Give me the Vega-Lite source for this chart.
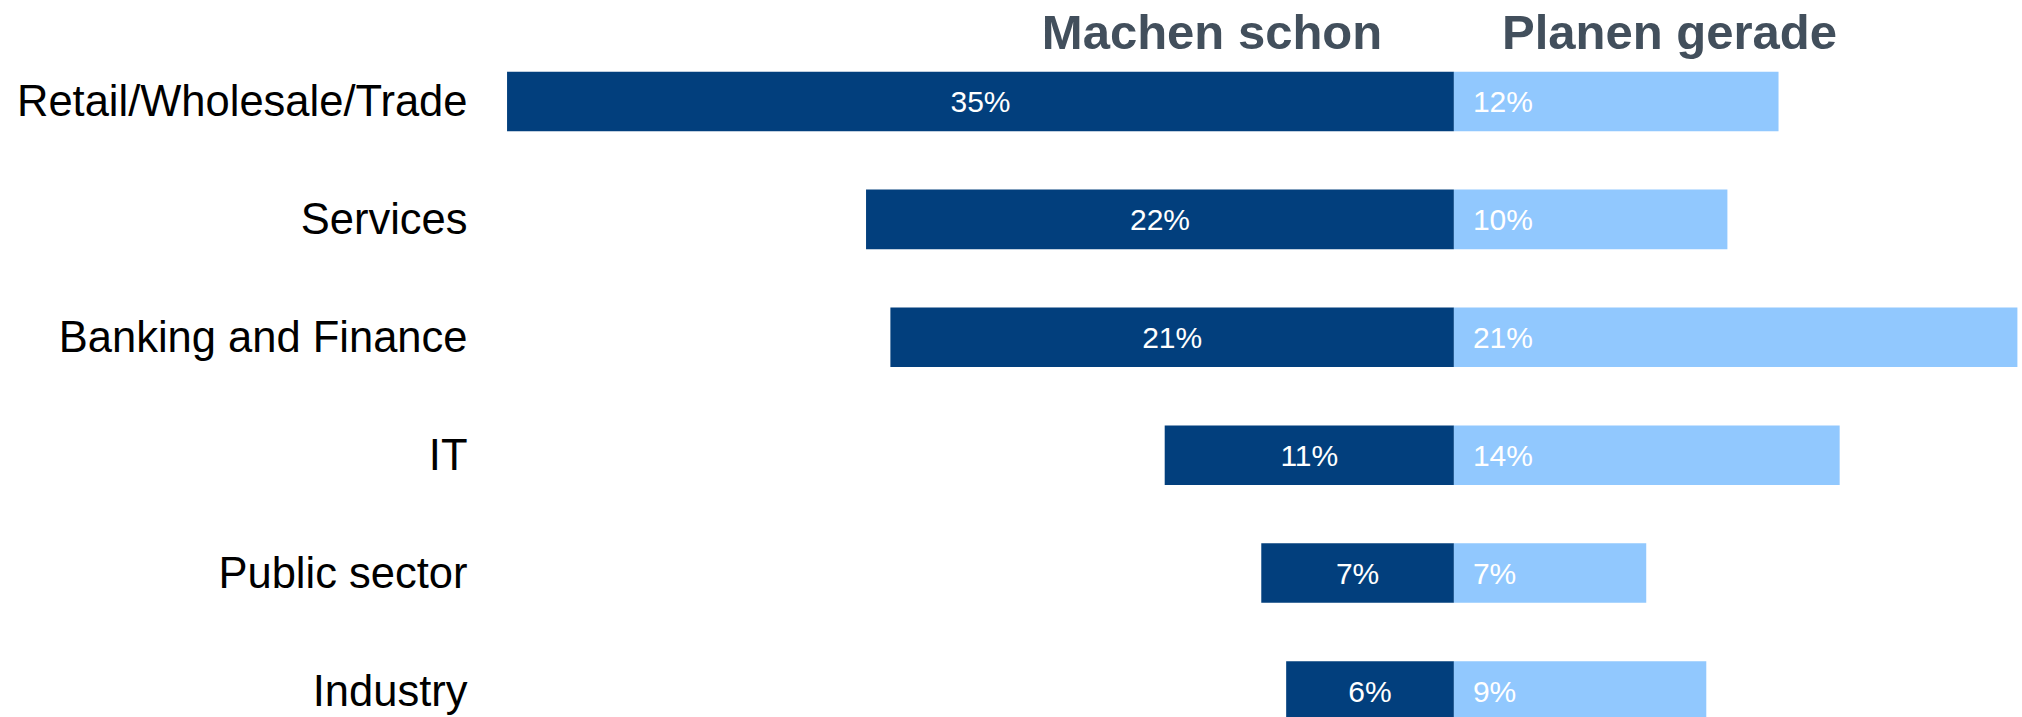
{
  "$schema": "https://vega.github.io/schema/vega-lite/v6.json",
  "autosize": {"type": "none"},
  "padding": {"left": 480, "top": 60, "right": 0, "bottom": 0},
  "width": 1542,
  "height": 657,
  "background": "white",
  "config": {"view": {"stroke": null}},
  "data": {
    "values": [
      {"category": "Retail/Wholesale/Trade", "machen": 0.350, "planen": 0.120},
      {"category": "Services", "machen": 0.2173, "planen": 0.1011},
      {"category": "Banking and Finance", "machen": 0.2083, "planen": 0.2083},
      {"category": "IT", "machen": 0.1069, "planen": 0.1426},
      {"category": "Public sector", "machen": 0.0712, "planen": 0.0711},
      {"category": "Industry", "machen": 0.0620, "planen": 0.0933}
    ]
  },
  "encoding": {
    "y": {
      "field": "category",
      "type": "nominal",
      "sort": ["Retail/Wholesale/Trade", "Services", "Banking and Finance", "IT", "Public sector", "Industry"],
      "scale": {
        "domain": ["Retail/Wholesale/Trade", "Services", "Banking and Finance", "IT", "Public sector", "Industry"],
        "range": [11.7, 660.7],
        "paddingInner": 0.495,
        "paddingOuter": 0
      },
      "axis": {
        "domain": false,
        "ticks": false,
        "tickSize": 0,
        "grid": false,
        "title": null,
        "labelFont": "Liberation Sans",
        "labelFontSize": 43.5,
        "labelColor": "#000000",
        "labelPadding": 13,
        "labelOffset": 2,
        "labelLimit": 1000
      }
    }
  },
  "layer": [
    {
      "mark": {"type": "bar", "color": "#023f7d"},
      "encoding": {
        "x": {
          "field": "machen",
          "type": "quantitative",
          "scale": {"domain": [-0.21, 0.36], "reverse": true, "nice": false},
          "axis": null
        }
      }
    },
    {
      "mark": {"type": "bar", "color": "#91c8fe"},
      "encoding": {
        "x": {
          "field": "planen",
          "type": "quantitative",
          "scale": {"domain": [-0.36, 0.21], "nice": false},
          "axis": {
            "orient": "top",
            "values": [-0.0896, 0.0795],
            "labelExpr": "datum.value < 0 ? 'Machen schon' : 'Planen gerade'",
            "domain": false,
            "ticks": false,
            "tickSize": 0,
            "grid": false,
            "title": null,
            "labelFont": "Liberation Sans",
            "labelFontSize": 49,
            "labelFontWeight": "bold",
            "labelColor": "#424f5c",
            "labelPadding": 12,
            "labelBaseline": "alphabetic",
            "labelAlign": "center",
            "labelOverlap": false,
            "labelBound": false,
            "labelFlush": false,
            "labelLimit": 1000
          }
        }
      }
    },
    {
      "mark": {"type": "rule", "color": "white", "strokeWidth": 3},
      "encoding": {
        "x": {
          "datum": 0,
          "type": "quantitative",
          "scale": {"domain": [-0.36, 0.21], "nice": false},
          "axis": null
        }
      }
    },
    {
      "mark": {"type": "text", "color": "white", "font": "Liberation Sans", "fontSize": 30, "align": "center", "baseline": "middle", "dy": 2},
      "encoding": {
        "x": {
          "field": "machen",
          "type": "quantitative",
          "scale": {"domain": [-0.42, 0.72], "reverse": true, "nice": false},
          "axis": null
        },
        "text": {"field": "machen", "type": "quantitative", "format": ".0%"}
      }
    },
    {
      "mark": {"type": "text", "color": "white", "font": "Liberation Sans", "fontSize": 30, "align": "left", "baseline": "middle", "dx": 19, "dy": 2},
      "encoding": {
        "x": {
          "datum": 0,
          "type": "quantitative",
          "scale": {"domain": [-0.36, 0.21], "nice": false},
          "axis": null
        },
        "text": {"field": "planen", "type": "quantitative", "format": ".0%"}
      }
    }
  ],
  "resolve": {"scale": {"x": "independent"}, "axis": {"x": "independent"}}
}
